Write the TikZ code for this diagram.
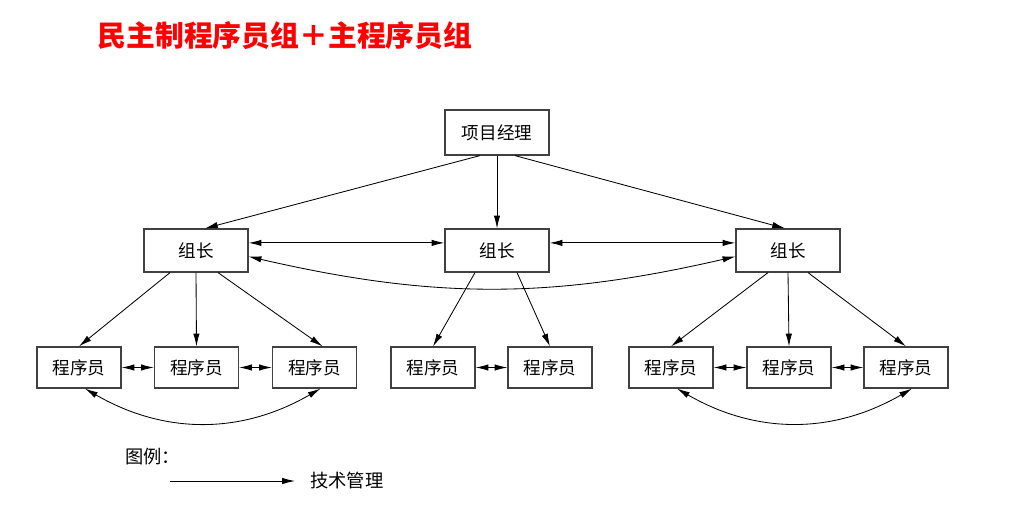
\documentclass[tikz,border=0pt]{standalone}
\usepackage{fontspec}
\newfontfamily\cjk{Noto Sans CJK SC}
\usetikzlibrary{positioning, arrows.meta}

\begin{document}
\begin{tikzpicture}[
    x=0.025cm, y=-0.025cm,
    >={Latex[length=3.2mm, width=1.6mm]}, line width=0.6pt,
    role/.style={draw=black!75, line width=0.85pt, rectangle, inner sep=0, minimum width=2.6cm, minimum height=1.125cm, font=\cjk\fontsize{12.5}{15}\selectfont},
    lead/.style={role, minimum height=1.075cm},
    coder/.style={role, minimum width=2.1cm, minimum height=1.025cm},
    legend/.style={inner sep=0, font=\cjk\fontsize{13}{15}\selectfont}
]
\useasboundingbox (0,0) rectangle (1036,505);

% Title
\node[font=\cjk\bfseries\fontsize{20.5}{24}\selectfont, text=red] (Title) at (285,36) {民主制程序员组＋主程序员组};

% Manager and group leaders
\node[role] (PM) at (497,132.5) {项目经理};
\node[lead] (GL1) at (196,250.5) {组长};
\node[lead] (GL2) at (497,250.5) {组长};
\node[lead] (GL3) at (788,250.5) {组长};

% Programmers
\node[coder] (P11) at (79,367.5) {程序员};
\node[coder] (P12) at (196.5,367.5) {程序员};
\node[coder] (P13) at (314.5,367.5) {程序员};
\node[coder] (P21) at (433,367.5) {程序员};
\node[coder] (P22) at (550,367.5) {程序员};
\node[coder] (P31) at (671,367.5) {程序员};
\node[coder] (P32) at (789,367.5) {程序员};
\node[coder] (P33) at (906,367.5) {程序员};

\draw[->] ([xshift=-0.425cm]PM.south) -- ([xshift=0.225cm]GL1.north);
\draw[->] (PM.south) -- (GL2.north);
\draw[->] ([xshift=0.45cm]PM.south) -- ([xshift=-0.075cm]GL3.north);

\draw[<->] ([yshift=0.19cm]GL1.east) -- ([yshift=0.19cm]GL2.west);
\draw[<->] ([yshift=0.19cm]GL2.east) -- ([yshift=0.19cm]GL3.west);
\draw[<->] ([yshift=-0.15cm]GL1.east) to[bend right=13] ([yshift=-0.15cm]GL3.west);

\draw[->] ([xshift=-0.65cm]GL1.south) -- (P11.north);
\draw[->] (GL1.south) -- (P12.north);
\draw[->] ([xshift=0.55cm]GL1.south) -- ([xshift=0.2cm]P13.north);

\draw[->] ([xshift=-0.55cm]GL2.south) -- (P21.north);
\draw[->] ([xshift=0.5cm]GL2.south) -- (P22.north);

\draw[->] ([xshift=-0.5cm]GL3.south) -- (P31.north);
\draw[->] (GL3.south) -- (P32.north);
\draw[->] ([xshift=0.5cm]GL3.south) -- (P33.north);

\draw[<->] (P11.east) -- (P12.west);
\draw[<->] (P12.east) -- (P13.west);
\draw[<->] (P21.east) -- (P22.west);
\draw[<->] (P31.east) -- (P32.west);
\draw[<->] (P32.east) -- (P33.west);

\draw[<->] ([xshift=0.15cm]P11.south) to[bend right=30] ([xshift=0.15cm]P13.south);
\draw[<->] ([xshift=0.15cm]P31.south) to[bend right=30] ([xshift=0.15cm]P33.south);

% Legend
\node[legend, anchor=west] (LegTitle) at (125,457) {图例：};
\coordinate (LegStart) at (170,481);
\node[legend, anchor=west] (LegText) at (310,481) {技术管理};
\draw[->] (LegStart) -- ([xshift=-0.375cm]LegText.west);

\end{tikzpicture}
\end{document}
